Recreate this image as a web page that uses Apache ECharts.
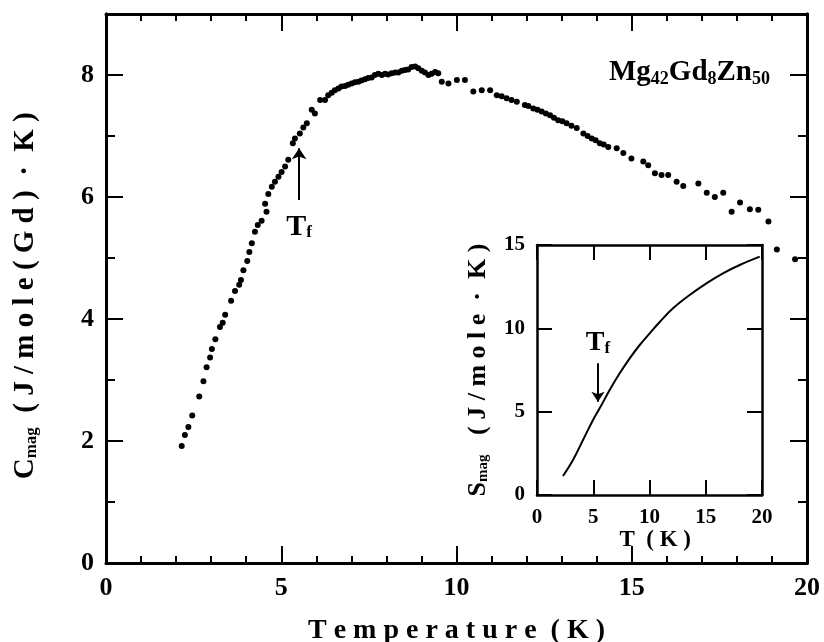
<!DOCTYPE html>
<html>
<head>
<meta charset="utf-8">
<script src="https://cdn.jsdelivr.net/npm/echarts@6/dist/echarts.min.js"></script>
<style>
  html, body { margin: 0; padding: 0; background: #fff; }
  #chart { width: 824px; height: 642px; }
</style>
</head>
<body>
<div id="chart"></div>
<script>
// main panel: C_mag of Mg42Gd8Zn50 against temperature (K)
const temps = [
  2.16, 2.25, 2.35, 2.46, 2.66, 2.78, 2.87, 2.97, 3.02, 3.12,
  3.25, 3.33, 3.40, 3.57, 3.68, 3.80, 3.85, 3.92, 4.03, 4.09,
  4.16, 4.25, 4.33, 4.44, 4.54, 4.58, 4.63, 4.73, 4.82, 4.92,
  5.01, 5.11, 5.20, 5.33, 5.39, 5.53, 5.63, 5.73, 5.87, 5.96,
  6.11, 6.25, 6.34, 6.44, 6.53, 6.63, 6.72, 6.82, 6.91, 7.01,
  7.10, 7.20, 7.29, 7.39, 7.48, 7.58, 7.67, 7.77, 7.87, 7.96,
  8.05, 8.15, 8.25, 8.34, 8.44, 8.53, 8.62, 8.72, 8.82, 8.91,
  9.01, 9.10, 9.20, 9.29, 9.39, 9.48, 9.58, 9.77, 10.01, 10.24,
  10.48, 10.72, 10.96, 11.15, 11.29, 11.43, 11.57, 11.72, 11.95, 12.05,
  12.19, 12.31, 12.43, 12.55, 12.67, 12.78, 12.90, 13.02, 13.14, 13.28,
  13.43, 13.62, 13.74, 13.86, 13.97, 14.09, 14.20, 14.33, 14.57, 14.76,
  14.99, 15.33, 15.47, 15.66, 15.85, 16.04, 16.28, 16.47, 16.90, 17.14,
  17.37, 17.61, 17.85, 18.09, 18.37, 18.61, 18.90, 19.14, 19.66
];
const cmag = [
  1.92, 2.10, 2.23, 2.42, 2.73, 2.98, 3.21, 3.37, 3.51, 3.67,
  3.87, 3.94, 4.07, 4.30, 4.46, 4.56, 4.64, 4.80, 4.95, 5.10,
  5.24, 5.43, 5.54, 5.61, 5.89, 5.76, 6.05, 6.17, 6.25, 6.33,
  6.41, 6.50, 6.61, 6.88, 6.96, 7.04, 7.14, 7.21, 7.43, 7.37,
  7.59, 7.59, 7.67, 7.71, 7.75, 7.78, 7.81, 7.82, 7.84, 7.86,
  7.88, 7.89, 7.91, 7.93, 7.95, 7.96, 8.00, 8.02, 8.00, 8.02,
  8.01, 8.03, 8.04, 8.04, 8.07, 8.08, 8.09, 8.13, 8.14, 8.11,
  8.07, 8.04, 8.00, 8.02, 8.05, 8.03, 7.89, 7.86, 7.92, 7.92,
  7.73, 7.75, 7.75, 7.67, 7.65, 7.62, 7.59, 7.56, 7.51, 7.49,
  7.45, 7.43, 7.40, 7.37, 7.34, 7.30, 7.26, 7.24, 7.21, 7.17,
  7.13, 7.04, 7.00, 6.96, 6.93, 6.88, 6.86, 6.82, 6.80, 6.72,
  6.63, 6.58, 6.52, 6.39, 6.36, 6.36, 6.25, 6.18, 6.22, 6.07,
  6.00, 6.07, 5.76, 5.91, 5.80, 5.79, 5.60, 5.14, 4.98
];

// inset: S_mag against T (K)
const insetT = [2.31, 3.20, 4.09, 4.98, 5.57, 6.46, 7.35, 8.24, 9.13, 10.02,
  10.91, 12.09, 13.57, 15.06, 16.53, 18.02, 19.80];
const smag = [1.14, 2.10, 3.30, 4.50, 5.20, 6.30, 7.30, 8.20, 9.00, 9.70,
  10.38, 11.20, 12.00, 12.70, 13.30, 13.80, 14.30];

// T_f arrows: [T, value] start and tip
const tfMainArrow = [[5.51, 5.95], [5.51, 6.80]];
const tfInsetArrow = [[5.42, 7.9], [5.42, 5.6]];

const serif = '"Liberation Serif", "DejaVu Serif", serif';
const black = '#000';

const chart = echarts.init(document.getElementById('chart'));

const tickLine = { color: black, width: 2 };
const subStyle = (size, pad) => ({
  fontSize: size, fontWeight: 'bold', fontFamily: serif, color: black, padding: [pad, 0, 0, 0]
});

// every frame edge is an axis with inward ticks
function axis(extra) {
  return Object.assign({
    type: 'value',
    axisLine: { show: true, onZero: false, lineStyle: { color: black, width: 3 } },
    axisTick: { show: true, inside: true, length: 17, lineStyle: tickLine },
    axisLabel: { show: false },
    splitLine: { show: false },
  }, extra);
}

const mainLabel = {
  show: true, color: black, fontFamily: serif, fontWeight: 'bold', fontSize: 26, margin: 12,
  formatter: (v) => (v % 2 === 0 ? String(v) : ''),
};
const insetLabel = {
  show: true, color: black, fontFamily: serif, fontWeight: 'bold', fontSize: 21, margin: 12,
};
const minorX = { show: true, splitNumber: 5, length: 7, lineStyle: tickLine };
const insetLine = { show: true, onZero: false, lineStyle: { color: black, width: 2.5 } };
const insetTick = { show: true, inside: true, length: 15, lineStyle: tickLine };

const tfLabel = (size, dist) => ({
  show: true,
  position: 'start',
  distance: dist,
  formatter: '{t|T}{f|f}',
  rich: {
    t: { fontSize: size, fontWeight: 'bold', fontFamily: serif, color: black },
    f: subStyle(17, 12),
  },
});

const option = {
  animation: false,
  backgroundColor: '#fff',
  grid: [
    { left: 106, right: 17, top: 14, bottom: 79, outerBoundsMode: 'none', containLabel: false },
    {
      left: 537, right: 62, top: 245, bottom: 147, outerBoundsMode: 'none', containLabel: false,
      show: true, backgroundColor: '#fff', borderWidth: 0,
    },
  ],
  xAxis: [
    axis({
      gridIndex: 0, position: 'bottom', min: 0, max: 20, interval: 5, minorTick: minorX,
      axisLabel: Object.assign({}, mainLabel, { formatter: null }),
      name: 'T e m p e r a t u r e  ( K )', nameLocation: 'middle', nameGap: 54,
      nameTextStyle: { color: black, fontFamily: serif, fontWeight: 'bold', fontSize: 28 },
    }),
    axis({ gridIndex: 0, position: 'top', min: 0, max: 20, interval: 5, minorTick: minorX }),
    axis({
      gridIndex: 1, position: 'bottom', min: 0, max: 20, interval: 5,
      axisLine: insetLine, axisTick: insetTick, axisLabel: insetLabel,
      name: '  T  ( K )', nameLocation: 'middle', nameGap: 34,
      nameTextStyle: { color: black, fontFamily: serif, fontWeight: 'bold', fontSize: 23 },
    }),
    axis({ gridIndex: 1, position: 'top', min: 0, max: 20, interval: 5, axisLine: insetLine, axisTick: insetTick }),
  ],
  yAxis: [
    axis({
      gridIndex: 0, position: 'left', min: 0, max: 9, interval: 2, axisLabel: mainLabel,
      name: '{c|C}{s|mag}  ( J / m o l e ( G d )  ·  K )  ', nameLocation: 'middle', nameGap: 66,
      nameTextStyle: {
        color: black, fontFamily: serif, fontWeight: 'bold', fontSize: 29,
        rich: {
          c: { fontSize: 29, fontWeight: 'bold', fontFamily: serif, color: black },
          s: subStyle(17, 12),
        },
      },
    }),
    axis({ gridIndex: 0, position: 'left', min: 0, max: 9, interval: 1, axisTick: { show: true, inside: true, length: 9, lineStyle: tickLine } }),
    axis({ gridIndex: 0, position: 'right', min: 0, max: 9, interval: 2 }),
    axis({ gridIndex: 0, position: 'right', min: 0, max: 9, interval: 1, axisTick: { show: true, inside: true, length: 9, lineStyle: tickLine } }),
    axis({
      gridIndex: 1, position: 'left', min: 0, max: 15, interval: 5,
      axisLine: insetLine, axisTick: insetTick, axisLabel: insetLabel,
      name: '{c|S}{s|mag}   ( J / m o l e  ·  K )', nameLocation: 'middle', nameGap: 46,
      nameTextStyle: {
        color: black, fontFamily: serif, fontWeight: 'bold', fontSize: 26,
        rich: {
          c: { fontSize: 26, fontWeight: 'bold', fontFamily: serif, color: black },
          s: subStyle(15, 11),
        },
      },
    }),
    axis({ gridIndex: 1, position: 'right', min: 0, max: 15, interval: 5, axisLine: insetLine, axisTick: insetTick }),
  ],
  series: [
    {
      type: 'scatter',
      xAxisIndex: 0,
      yAxisIndex: 0,
      data: temps.map((t, i) => [t, cmag[i]]),
      symbolSize: 6,
      itemStyle: { color: black, opacity: 1 },
      markLine: {
        silent: true,
        symbol: ['none', 'arrow'],
        symbolSize: 11,
        lineStyle: { color: black, width: 2, type: 'solid' },
        label: tfLabel(30, 12),
        data: [[{ coord: tfMainArrow[0] }, { coord: tfMainArrow[1] }]],
      },
    },
    {
      type: 'line',
      xAxisIndex: 2,
      yAxisIndex: 4,
      data: insetT.map((t, i) => [t, smag[i]]),
      smooth: 0.4,
      showSymbol: false,
      lineStyle: { color: black, width: 2 },
      markLine: {
        silent: true,
        symbol: ['none', 'arrow'],
        symbolSize: 10,
        lineStyle: { color: black, width: 2, type: 'solid' },
        label: tfLabel(28, 6),
        data: [[{ coord: tfInsetArrow[0] }, { coord: tfInsetArrow[1] }]],
      },
    },
  ],
  graphic: [
    {
      type: 'text',
      right: 54,
      top: 58,
      style: {
        text: '{n|Mg}{s|42}{n|Gd}{s|8}{n|Zn}{s|50}',
        rich: {
          n: { fontSize: 29, fontWeight: 'bold', fontFamily: serif, fill: black },
          s: { fontSize: 18, fontWeight: 'bold', fontFamily: serif, fill: black, padding: [13, 0, 0, 0] },
        },
      },
    },
  ],
};

chart.setOption(option);
</script>
</body>
</html>
